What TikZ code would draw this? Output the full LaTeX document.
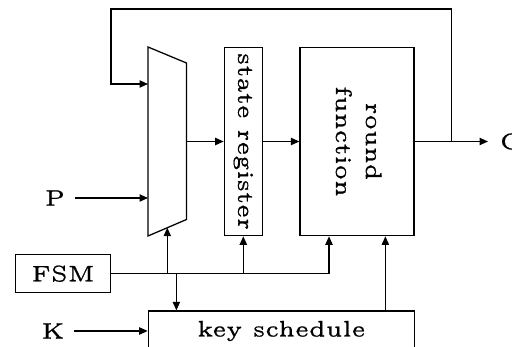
\documentclass[tikz,border=0pt]{standalone}
\usepackage{fontspec}
\usetikzlibrary{arrows.meta,calc}
\newfontfamily\lmfive{lmroman5-regular.otf}[FakeBold=0.9]
\newcommand\fs{\lmfive\fontsize{4.8}{6.4}\selectfont}
\begin{document}
\begin{tikzpicture}[x=0.2134pt,y=-0.2134pt, line width=0.27pt,
  >={Triangle[length=1.8pt,width=1.55pt]},
  box/.style={draw, inner sep=0pt, font=\fs},
  lbl/.style={inner sep=2pt, font=\fs}]
\useasboundingbox (0,0) rectangle (512,347);
% boxes
\node[box, minimum width=38*0.2134pt, minimum height=188.4*0.2134pt] (SR) at (243.3,141.5)
  {\rotatebox{-90}{state register}};
\node[box, minimum width=114*0.2134pt, minimum height=188.4*0.2134pt] (RF) at (357,141.5)
  {\rotatebox{-90}{\begin{tabular}{@{}c@{}}round\\function\end{tabular}}};
\node[box, minimum width=95.4*0.2134pt, minimum height=37.7*0.2134pt] (FSM) at (63,273.7) {FSM};
\node[box, minimum width=266*0.2134pt, minimum height=40*0.2134pt] (KS) at (281.3,331) {key schedule};
% multiplexer
\coordinate (m1) at (148,47);
\coordinate (m2) at (186.5,63);
\coordinate (m3) at (186.5,219.5);
\coordinate (m4) at (148,236);
\draw (m1) -- (m2) -- (m3) -- (m4) -- cycle;
\coordinate (muxfb) at (148,84);
\coordinate (muxout) at (186.5,141.5);
\coordinate (muxsel) at (167.3,227.7);
% labels
\node[lbl] (P) at (55,198) {P};
\node[lbl] (K) at (53,331) {K};
\node[lbl, anchor=west, inner xsep=2.4pt] (C) at (488,141.5) {C};
\coordinate (tap) at (451.7,141.5);
\coordinate (fbtop) at (111,9);
\coordinate (ksin) at ($(KS.north west)+(28.7,0)$);
\coordinate (ksout) at ($(KS.north west)+(237.7,0)$);
\coordinate (rfin) at ($(RF.south)+(-28,0)$);
% connectors
\draw[->] (P.east) -- (P.east -| m1);
\draw[->] (K.east) -- (KS.west);
\draw[->] (muxout) -- (SR.west);
\draw[->] (SR.east) -- (RF.west);
\draw[->] (RF.east) -- (C.west);
\draw[->] (tap) |- (fbtop) |- (muxfb);
\draw[->] (FSM.east) -| (rfin);
\draw[->] (muxsel |- FSM.east) -- (muxsel);
\draw[->] (SR.south |- FSM.east) -- (SR.south);
\draw[->] (ksin |- FSM.east) -- (ksin);
\draw[->] (ksout) -- (ksout |- RF.south);
\end{tikzpicture}
\end{document}
